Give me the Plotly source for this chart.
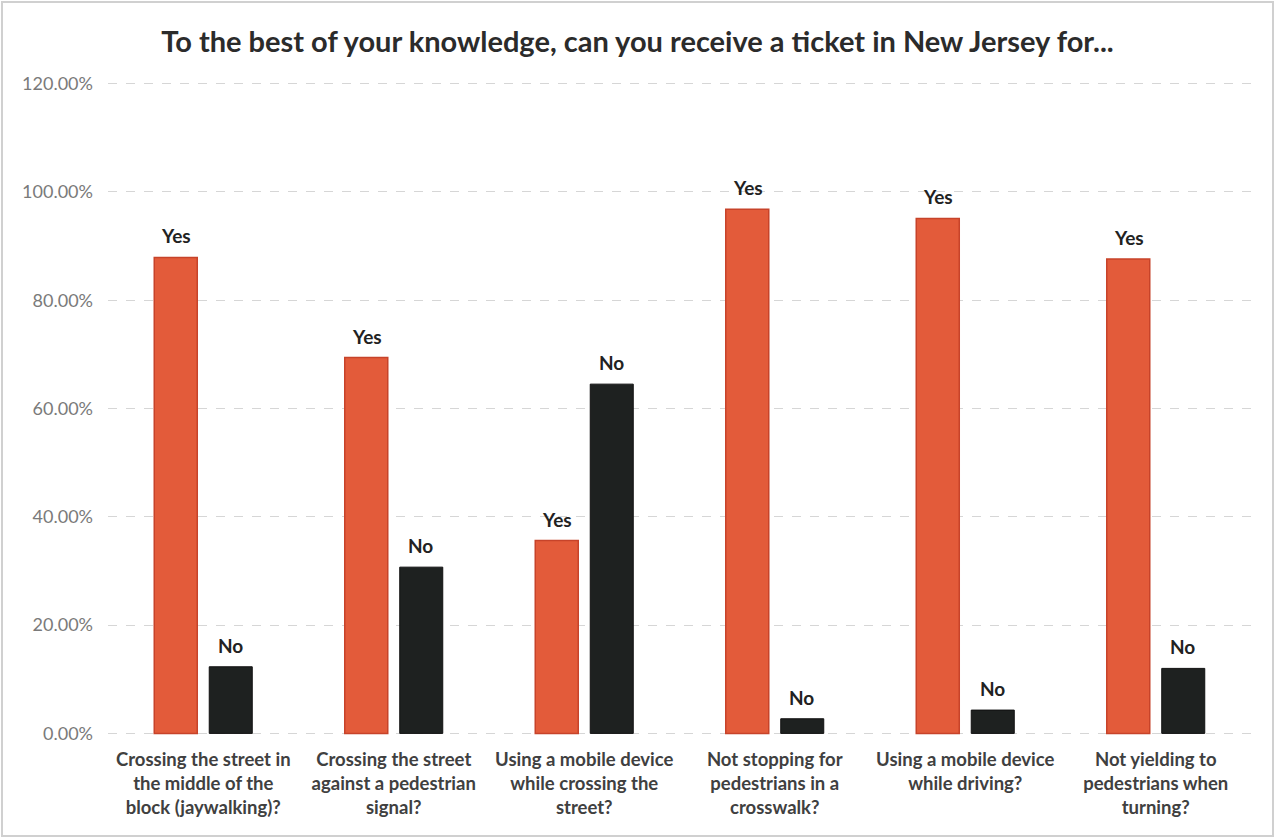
import plotly.graph_objects as go

# Survey questions (x-axis categories)
questions = [
    "Crossing the street in<br>the middle of the<br>block (jaywalking)?",
    "Crossing the street<br>against a pedestrian<br>signal?",
    "Using a mobile device<br>while crossing the<br>street?",
    "Not stopping for<br>pedestrians in a<br>crosswalk?",
    "Using a mobile device<br>while driving?",
    "Not yielding to<br>pedestrians when<br>turning?",
]

# Share of respondents (percent)
yes_pct = [87.9, 69.4, 35.6, 96.8, 95.1, 87.6]
no_pct = [12.3, 30.7, 64.5, 2.7, 4.3, 12.0]

# Y-axis ticks
y_ticks = [0, 20, 40, 60, 80, 100, 120]
y_tick_labels = [f"{v:.2f}%" for v in y_ticks]

FONT = "Lato, 'Open Sans', sans-serif"
ORANGE = "#E35B3A"
DARK = "#1E2120"
LABEL_FONT = dict(family=FONT, size=19, color="#222222", weight="bold")

fig = go.Figure()
fig.add_trace(go.Bar(
    x=questions, y=yes_pct, name="Yes",
    marker=dict(color=ORANGE, line=dict(color="#C7432A", width=1.5)),
))
fig.add_trace(go.Bar(
    x=questions, y=no_pct, name="No",
    marker=dict(color=DARK, line=dict(color="#111111", width=1)),
))

# "Yes"/"No" tags above each bar (bars sit ~27 px either side of the category centre)
for q, yv, nv in zip(questions, yes_pct, no_pct):
    fig.add_annotation(x=q, y=yv, text="Yes", showarrow=False, xshift=-27,
                       yanchor="bottom", yshift=8, font=LABEL_FONT)
    fig.add_annotation(x=q, y=nv, text="No", showarrow=False, xshift=27,
                       yanchor="bottom", yshift=8, font=LABEL_FONT)

fig.update_layout(
    width=1275, height=839,
    paper_bgcolor="white", plot_bgcolor="white",
    margin=dict(l=108, r=24, t=82, b=104),
    barmode="group", bargap=0.4226, bargroupgap=0.218,
    showlegend=False,
    title=dict(
        text="To the best of your knowledge, can you receive a ticket in New Jersey for...",
        x=0.5, xanchor="center", y=0.95, yanchor="middle",
        font=dict(family=FONT, size=29, color="#2B2B2B", weight="bold"),
    ),
    font=dict(family=FONT),
)

fig.update_yaxes(
    range=[-0.3, 120.3], tickvals=y_ticks, ticktext=y_tick_labels,
    showgrid=True, gridcolor="#D6D6D6", griddash="dash", gridwidth=1,
    zeroline=False, showline=False, ticks="",
    tickfont=dict(family=FONT, size=18, color="#7A7A7A"),
    ticklabelstandoff=14,
)
fig.update_xaxes(
    showline=False, ticks="", tickangle=0,
    tickfont=dict(family=FONT, size=18.5, color="#404040", weight="bold"),
    ticklabelstandoff=11,
)

# Light frame around the whole chart
fig.add_shape(type="rect", xref="paper", yref="paper",
              x0=-106 / 1143, x1=1 + 22 / 1143, y0=-101 / 653, y1=1 + 80 / 653,
              line=dict(color="#D0D0D0", width=2), fillcolor="rgba(0,0,0,0)")

fig.write_html("out.html")
